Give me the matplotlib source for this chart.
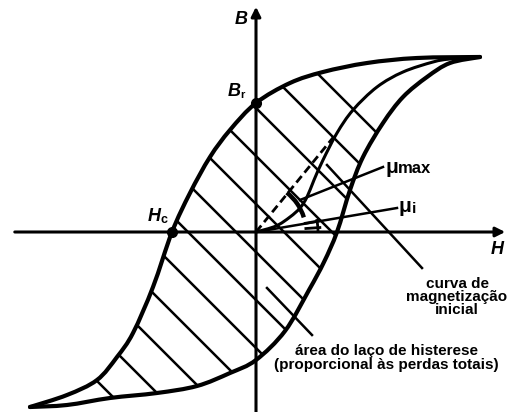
import numpy as np
import matplotlib.pyplot as plt
from matplotlib.patches import Arc, PathPatch
from matplotlib.path import Path

# hysteresis loop (H, B in arbitrary units)
# descending branch, from positive saturation to negative saturation
H_down = [2.24, 1.61, 1.11, 0.67, 0.34, 0.0, -0.26, -0.46, -0.66, -0.84,
          -1.03, -1.23, -1.39, -1.59, -1.89, -2.26]
B_down = [1.75, 1.74, 1.69, 1.60, 1.49, 1.29, 1.02, 0.75, 0.39, 0.0,
          -0.55, -1.01, -1.25, -1.48, -1.63, -1.75]

# ascending branch, from negative saturation back to positive saturation
H_up = [-2.26, -1.89, -1.46, -0.99, -0.59, -0.26, 0.0, 0.29, 0.53, 0.68, 0.81,
        0.94, 1.07, 1.27, 1.47, 1.71, 1.94, 2.24]
B_up = [-1.75, -1.73, -1.66, -1.61, -1.54, -1.41, -1.28, -0.99, -0.58, -0.30, 0.0,
        0.42, 0.75, 1.09, 1.35, 1.55, 1.69, 1.75]

# initial magnetization curve
H_init = [0.0, 0.20, 0.34, 0.44, 0.51, 0.58, 0.67, 0.81, 0.97, 1.21, 1.47, 1.77, 1.94, 2.24]
B_init = [0.0, 0.06, 0.15, 0.24, 0.35, 0.52, 0.72, 0.99, 1.22, 1.45, 1.60, 1.70, 1.73, 1.75]

Br = 1.29
Hc = -0.84
mu_max_point = (0.80, 0.98)   # where the dashed tangent meets the initial curve
mu_i_end = (1.41, 0.24)


def smooth_path(xs, ys, closed=False):
    # Catmull-Rom curve through the read points, drawn as cubic Beziers
    pts = np.column_stack([xs, ys])
    n = len(pts)
    verts = [pts[0]]
    codes = [Path.MOVETO]
    for i in range(n - 1):
        p0 = pts[i - 1] if i > 0 else pts[i]
        p1 = pts[i]
        p2 = pts[i + 1]
        p3 = pts[i + 2] if i + 2 < n else pts[i + 1]
        verts += [p1 + (p2 - p0) / 6, p2 - (p3 - p1) / 6, p2]
        codes += [Path.CURVE4] * 3
    if closed:
        verts.append(pts[0])
        codes.append(Path.CLOSEPOLY)
    return Path(verts, codes)


fig = plt.figure(figsize=(5.09, 4.12), dpi=100)
ax = fig.add_axes([0, 0, 1, 1])
ax.set_xlim(-2.56, 2.53)
ax.set_ylim(-1.80, 2.32)
ax.axis('off')

lw_curve = 3.0
lw_thin = 1.8

# hatching inside the loop
loop = PathPatch(smooth_path(H_down + H_up[1:], B_down + B_up[1:], closed=True),
                 transform=ax.transData, fill=False, lw=0)
ax.add_patch(loop)
hh = np.array([-3.0, 3.0])
for c in np.arange(0.76 - 0.48 * 8, 0.76 + 0.48 * 4, 0.48):
    ln, = ax.plot(hh, c - hh, color='black', lw=lw_thin, solid_capstyle='butt')
    ln.set_clip_path(loop)

# axes with arrows
ax.annotate('', xy=(2.52, 0), xytext=(-2.44, 0),
            arrowprops=dict(arrowstyle='-|>', lw=2.2, color='black', mutation_scale=14))
ax.annotate('', xy=(0, 2.28), xytext=(0, -1.85),
            arrowprops=dict(arrowstyle='-|>', lw=2.2, color='black', mutation_scale=14))

# loop branches and initial curve
for xs, ys, w in [(H_down, B_down, lw_curve), (H_up, B_up, lw_curve), (H_init, B_init, 2.2)]:
    ax.add_patch(PathPatch(smooth_path(xs, ys), fill=False, edgecolor='black', lw=w,
                           capstyle='round', joinstyle='round'))

# permeability lines
ax.plot([0, mu_max_point[0]], [0, mu_max_point[1]], color='black', lw=2.0,
        linestyle=(0, (3, 1.6)))
ax.plot([0, mu_i_end[0]], [0, mu_i_end[1]], color='black', lw=lw_thin)
ax.plot([0.44, 1.27], [0.32, 0.65], color='black', lw=lw_thin)
ax.add_patch(Arc((0, 0), 1.0, 1.0, theta1=17, theta2=52, lw=3.2, color='black'))
ax.add_patch(Arc((0, 0), 1.24, 1.24, theta1=0, theta2=12, lw=2.0, color='black'))
for ang in (4, 10):
    a = np.radians(ang)
    ax.plot([0.5 * np.cos(a), 0.64 * np.cos(a)], [0.5 * np.sin(a), 0.64 * np.sin(a)],
            color='black', lw=2.0)

# leaders to the notes
ax.plot([0.71, 1.66], [0.67, -0.36], color='black', lw=lw_thin)
ax.plot([0.11, 0.56], [-0.56, -1.03], color='black', lw=lw_thin)

# remarkable points
ax.plot([0], [Br], 'o', color='black', ms=7)
ax.plot([Hc], [0], 'o', color='black', ms=7)

font = 'Liberation Sans'
big = dict(fontsize=13, fontweight='bold', style='italic', family=font)
ax.text(-0.15, 2.13, 'B', ha='center', va='center', **big)
ax.text(2.41, -0.18, 'H', ha='center', va='center', **big)
ax.text(-0.15, 1.36, 'B', ha='right', va='baseline', **big)
ax.text(-0.16, 1.34, 'r', fontsize=8, fontweight='bold', family=font, ha='left', va='baseline')
ax.text(-0.95, 0.11, 'H', ha='right', va='baseline', **big)
ax.text(-0.96, 0.09, 'c', fontsize=9, fontweight='bold', family=font, ha='left', va='baseline')

ax.text(1.42, 0.59, 'μ', fontsize=15, fontweight='bold', family=font, ha='right', va='baseline')
ax.text(1.42, 0.59, 'max', fontsize=12, fontweight='bold', family=font, ha='left', va='baseline')
ax.text(1.55, 0.20, 'μ', fontsize=15, fontweight='bold', family=font, ha='right', va='baseline')
ax.text(1.56, 0.19, 'i', fontsize=11, fontweight='bold', family=font, ha='left', va='baseline')

ax.text(2.01, -0.65, 'curva de\nmagnetização\ninicial', fontsize=11, fontweight='bold',
        family=font, ha='center', va='center', linespacing=0.92)
ax.text(1.30, -1.26, 'área do laço de histerese\n(proporcional às perdas totais)', fontsize=11,
        fontweight='bold', family=font, ha='center', va='center', linespacing=0.92)

fig.savefig('out.png', dpi=100)
